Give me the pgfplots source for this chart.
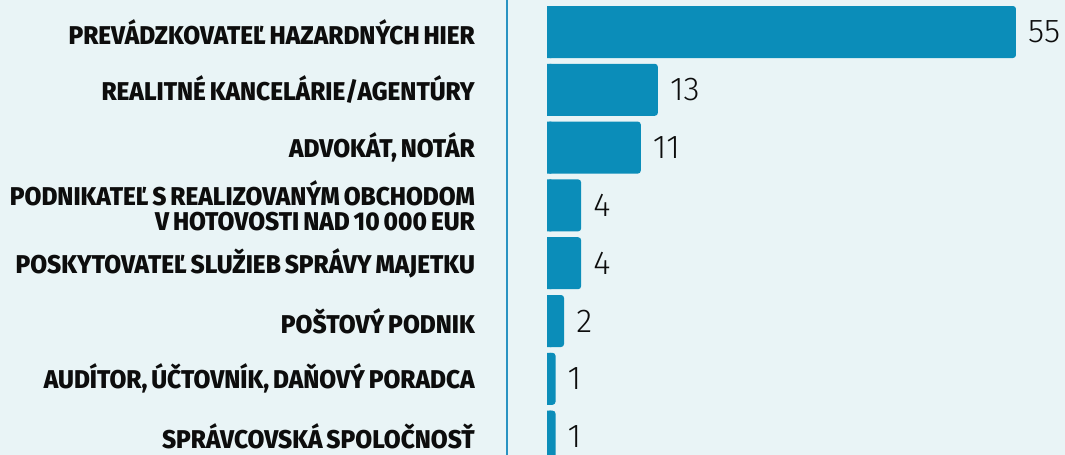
\documentclass[border=0pt]{standalone}
\usepackage{fontspec}
\usepackage{pgfplots}
\usepackage{pgfplotstable}
\pgfplotsset{compat=1.18}
\setmainfont{Fira Sans}
\newfontfamily\labfont[FakeStretch=0.95, WordSpace=0.7]{Fira Sans ExtraBold}
\newfontfamily\valfont{Fira Sans Light}
\definecolor{bgc}{HTML}{E9F4F6}
\definecolor{barc}{HTML}{0B8DB9}
\definecolor{linec}{HTML}{2A93C2}
\definecolor{txtc}{HTML}{0D0D0D}

\pgfplotstableread{
idx val
0 55
1 13
2 11
3 4
4 4
5 2
6 1
7 1
}\datatable

\begin{document}
\begin{tikzpicture}
\path[use as bounding box] (0,0) rectangle (1065bp,455bp);
\clip (0,0) rectangle (1065bp,455bp);
\fill[bgc] (0,0) rectangle (1065bp,455bp);
\draw[linec, line width=1.8bp] (507bp,0) -- (507bp,455bp);
\begin{axis}[
  at={(547bp,451.9bp)}, anchor=north west,
  x=8.527bp, y=57.8bp, y dir=reverse,
  xmin=0, xmax=60, ymin=-0.5, ymax=7.5,
  axis line style={draw=none}, tick style={draw=none},
  xtick=\empty,
  ytick={0,...,7},
  yticklabels={
    {PREVÁDZKOVATEĽ HAZARDNÝCH HIER},
    {REALITNÉ KANCELÁRIE/AGENTÚRY},
    {ADVOKÁT, NOTÁR},
    {PODNIKATEĽ S REALIZOVANÝM OBCHODOM\\V HOTOVOSTI NAD 10 000 EUR},
    {POSKYTOVATEĽ SLUŽIEB SPRÁVY MAJETKU},
    {POŠTOVÝ PODNIK},
    {AUDÍTOR, ÚČTOVNÍK, DAŇOVÝ PORADCA},
    {SPRÁVCOVSKÁ SPOLOČNOSŤ}},
  yticklabel style={font=\labfont\fontsize{25.7bp}{25bp}\selectfont, text=txtc,
    align=right, anchor=east, inner sep=0pt, xshift=-72bp},
  /pgf/number format/assume math mode=true,
  clip=false,
]
\addplot[xbar, bar width=52bp, fill=barc, draw=none, rounded corners=3bp,
  nodes near coords,
  nodes near coords style={font=\valfont\fontsize{33bp}{34bp}\selectfont, text=txtc,
    inner sep=0pt, anchor=west, xshift=12bp}]
  table[x=val, y=idx] {\datatable};
\addplot[xbar, bar width=52bp, fill=barc, draw=none,
  x filter/.expression={min(x,0.5)}]
  table[x=val, y=idx] {\datatable};
\end{axis}
\end{tikzpicture}
\end{document}
